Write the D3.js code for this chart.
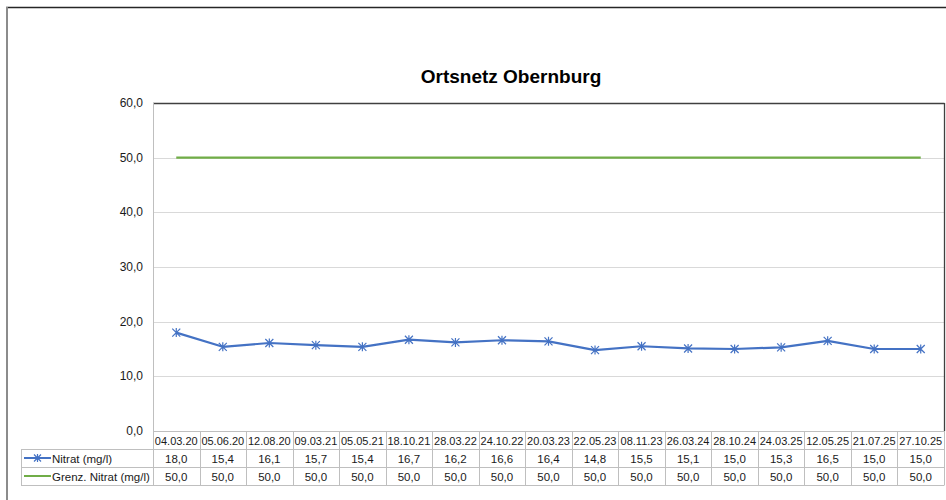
<!DOCTYPE html>
<html lang="de">
<head>
  <meta charset="UTF-8">
  <title>Ortsnetz Obernburg</title>
  <script src="https://cdn.jsdelivr.net/npm/d3@7/dist/d3.min.js"></script>
  <style>
    body { margin: 0; background: #fff; font-family: "Liberation Sans", Arial, sans-serif; }
    svg text { fill: #1a1a1a; }
  </style>
</head>
<body>
  <script>
    const dates = ["04.03.20", "05.06.20", "12.08.20", "09.03.21", "05.05.21", "18.10.21", "28.03.22", "24.10.22",
                   "20.03.23", "22.05.23", "08.11.23", "26.03.24", "28.10.24", "24.03.25", "12.05.25", "21.07.25", "27.10.25"];
    const nitrat = [18.0, 15.4, 16.1, 15.7, 15.4, 16.7, 16.2, 16.6, 16.4, 14.8, 15.5, 15.1, 15.0, 15.3, 16.5, 15.0, 15.0];
    const grenz = [50, 50, 50, 50, 50, 50, 50, 50, 50, 50, 50, 50, 50, 50, 50, 50, 50];
    const yTicks = [0, 10, 20, 30, 40, 50, 60];

    const series = [
      { name: "Nitrat (mg/l)", values: nitrat, color: "#4472c4", marker: true },
      { name: "Grenz. Nitrat (mg/l)", values: grenz, color: "#70ad47", marker: false }
    ];

    const W = 946, H = 500;
    const plot = { left: 153, right: 944, top: 103, bottom: 431 };
    const rowH = 18, tableLeft = 21;
    const fmt = d3.formatLocale({ decimal: ",", thousands: ".", grouping: [3], currency: ["", "€"] }).format(".1f");

    const svg = d3.select("body").append("svg")
      .attr("width", W).attr("height", H);

    // chart border (cropped)
    svg.append("line").attr("x1", 6).attr("x2", W).attr("y1", 7.5).attr("y2", 7.5)
      .attr("stroke", "#262626").attr("stroke-width", 1.5);
    svg.append("line").attr("x1", 7).attr("x2", 7).attr("y1", 7).attr("y2", H)
      .attr("stroke", "#8c8c8c").attr("stroke-width", 2);

    const x = d3.scaleBand().domain(dates).range([plot.left, plot.right]);
    const y = d3.scaleLinear().domain([0, 60]).range([plot.bottom, plot.top]);

    // gridlines
    svg.append("g").selectAll("line").data(yTicks.filter(t => t > 0 && t < 60)).enter().append("line")
      .attr("x1", plot.left).attr("x2", plot.right)
      .attr("y1", d => Math.round(y(d)) + 0.5).attr("y2", d => Math.round(y(d)) + 0.5)
      .attr("stroke", "#d9d9d9").attr("stroke-width", 1);

    // plot frame: top and right dark, left axis grey
    svg.append("line").attr("x1", plot.left).attr("x2", plot.right + 0.5)
      .attr("y1", plot.top + 0.5).attr("y2", plot.top + 0.5).attr("stroke", "#404040").attr("stroke-width", 1.3);
    svg.append("line").attr("x1", plot.right + 0.5).attr("x2", plot.right + 0.5)
      .attr("y1", plot.top).attr("y2", plot.bottom).attr("stroke", "#404040").attr("stroke-width", 1.3);
    svg.append("line").attr("x1", plot.left + 0.5).attr("x2", plot.left + 0.5)
      .attr("y1", plot.top).attr("y2", plot.bottom + rowH).attr("stroke", "#bfbfbf");

    // y axis labels
    svg.append("g").selectAll("text").data(yTicks).enter().append("text")
      .attr("x", 143).attr("y", d => y(d) + 4)
      .attr("text-anchor", "end").attr("font-size", 12)
      .text(d => fmt(d));

    // title
    svg.append("text").attr("x", 511).attr("y", 83).attr("text-anchor", "middle")
      .attr("font-size", 19).attr("font-weight", "bold").style("fill", "#000")
      .text("Ortsnetz Obernburg");

    // series lines
    const line = d3.line().x((d, i) => x(dates[i]) + x.bandwidth() / 2).y(d => y(d));
    series.forEach(s => {
      svg.append("path").datum(s.values)
        .attr("d", line).attr("fill", "none")
        .attr("stroke", s.color).attr("stroke-width", 2.2).attr("stroke-linejoin", "round");
    });

    const star = (g, cx, cy, r, color) => {
      g.append("path")
        .attr("d", `M${cx - r},${cy - r}L${cx + r},${cy + r}M${cx - r},${cy + r}L${cx + r},${cy - r}M${cx},${cy - r - 0.5}L${cx},${cy + r + 0.5}`)
        .attr("stroke", color).attr("stroke-width", 1.2).attr("fill", "none");
    };
    const markers = svg.append("g");
    series.filter(s => s.marker).forEach(s => {
      s.values.forEach((v, i) => star(markers, x(dates[i]) + x.bandwidth() / 2, y(v), 4, s.color));
    });

    // data table
    const table = svg.append("g").attr("font-size", 11);
    const gridCol = "#bfbfbf";
    table.append("line").attr("x1", plot.left).attr("x2", plot.right + 0.5)
      .attr("y1", plot.bottom + 0.5).attr("y2", plot.bottom + 0.5).attr("stroke", gridCol);
    [1, 2, 3].forEach(r => {
      table.append("line").attr("x1", tableLeft).attr("x2", plot.right + 0.5)
        .attr("y1", plot.bottom + r * rowH + 0.5).attr("y2", plot.bottom + r * rowH + 0.5).attr("stroke", gridCol);
    });
    dates.forEach(d => {
      table.append("line").attr("x1", Math.round(x(d) + x.bandwidth()) + 0.5).attr("x2", Math.round(x(d) + x.bandwidth()) + 0.5)
        .attr("y1", plot.bottom).attr("y2", plot.bottom + 3 * rowH).attr("stroke", gridCol);
      table.append("line").attr("x1", Math.round(x(d)) + 0.5).attr("x2", Math.round(x(d)) + 0.5)
        .attr("y1", plot.bottom).attr("y2", plot.bottom + 3 * rowH).attr("stroke", gridCol);
    });
    table.append("line").attr("x1", tableLeft + 0.5).attr("x2", tableLeft + 0.5)
      .attr("y1", plot.bottom + rowH).attr("y2", plot.bottom + 3 * rowH).attr("stroke", gridCol);

    // header dates
    table.selectAll("text.date").data(dates).enter().append("text").attr("class", "date")
      .attr("x", d => x(d) + x.bandwidth() / 2).attr("y", plot.bottom + 13.5)
      .attr("text-anchor", "middle").text(d => d);

    series.forEach((s, r) => {
      const cy = plot.bottom + (r + 1) * rowH + rowH / 2;
      table.selectAll(null).data(s.values).enter().append("text")
        .attr("x", (d, i) => x(dates[i]) + x.bandwidth() / 2).attr("y", cy + 4.5)
        .attr("text-anchor", "middle").attr("font-size", 11.5).text(d => fmt(d));
      // legend key
      table.append("line").attr("x1", 24).attr("x2", 51).attr("y1", cy).attr("y2", cy)
        .attr("stroke", s.color).attr("stroke-width", 2);
      if (s.marker) star(table, 37.5, cy, 3.5, s.color);
      table.append("text").attr("x", 52).attr("y", cy + 4.5).attr("font-size", 11.5).text(s.name);
    });
  </script>
</body>
</html>
